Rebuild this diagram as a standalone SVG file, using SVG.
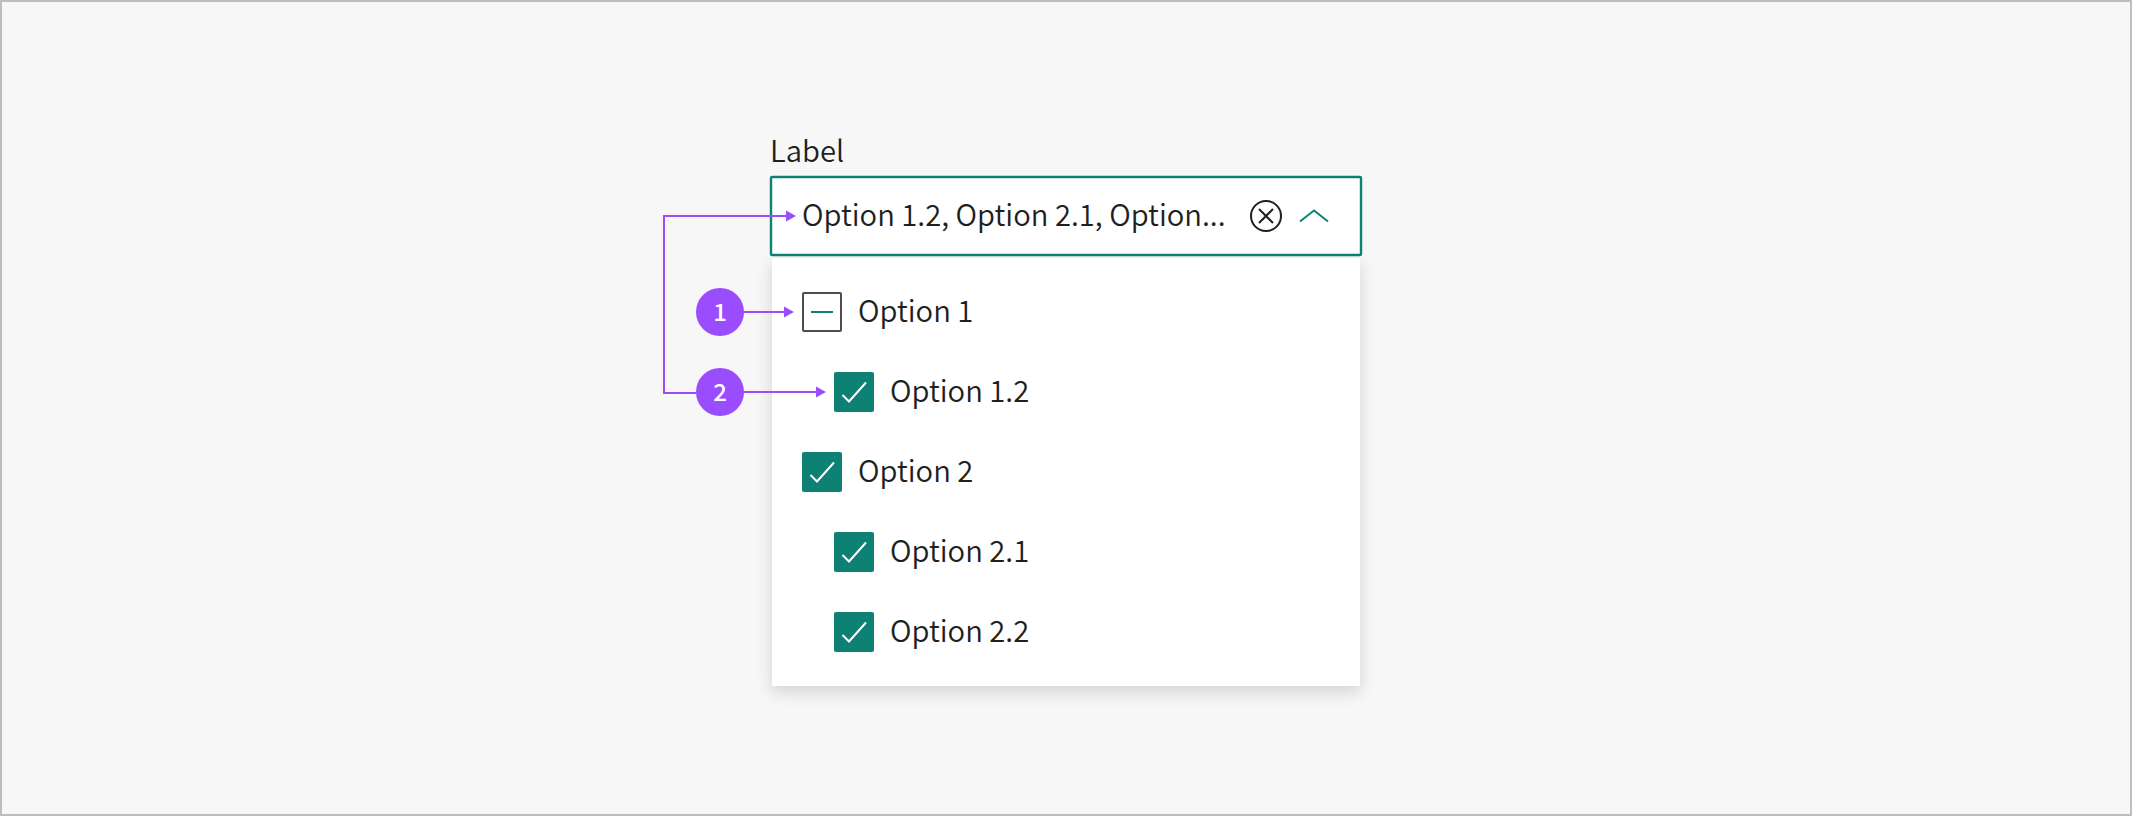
<svg xmlns="http://www.w3.org/2000/svg" width="2132" height="816" viewBox="0 0 2132 816">
<style>
text{font-family:"Noto Sans CJK SC","Noto Sans",sans-serif;fill:#1f1f1f;font-size:29.2px;font-weight:350}
.cb{fill:#0d8274}
.ck{fill:none;stroke:#fff;stroke-width:2}
.c{fill:none;stroke:#9a4dff;stroke-width:2}
.a{fill:#9a4dff}
text.n{fill:#fff;font-size:24px;font-weight:500;text-anchor:middle}
</style>
<defs>
<filter id="sh" x="-10%" y="-10%" width="120%" height="125%"><feDropShadow dx="0" dy="6" stdDeviation="8" flood-color="#000" flood-opacity=".15"/></filter>
<g id="check"><rect class="cb" width="40" height="40" rx="2"/><path class="ck" d="M8.500 23L15 29.500L32 10.500"/></g>
</defs>
<rect x="1" y="1" width="2130" height="814" fill="#f7f7f7" stroke="#bdbdbd" stroke-width="2"/>
<g id="menu"><rect x="772" y="258" width="588" height="428" fill="#fff" filter="url(#sh)"/></g>
<g id="field">
<text x="770" y="162">Label</text>
<rect x="771" y="177" width="590" height="78" rx="1" fill="#fff" stroke="#0d8274" stroke-width="2.400"/>
<text x="802" y="226">Option 1.2, Option 2.1, Option...</text>
<g fill="none"><circle cx="1266" cy="216" r="15" stroke="#1f1f1f" stroke-width="2"/><path d="M1259 209l14 14M1273 209l-14 14" stroke="#1f1f1f" stroke-width="2"/><path d="M1300 221.500l14-11 14 11" stroke="#0d8274" stroke-width="2"/></g>
</g>
<g id="option-1"><rect x="803" y="293" width="38" height="38" rx="1" fill="#fff" stroke="#504b4f" stroke-width="2"/><path d="M811 312h22" stroke="#0d8274" stroke-width="2"/><text x="858" y="322">Option 1</text></g>
<g id="option-1-2"><use href="#check" x="834" y="372"/><text x="890" y="402">Option 1.2</text></g>
<g id="option-2"><use href="#check" x="802" y="452"/><text x="858" y="482">Option 2</text></g>
<g id="option-2-1"><use href="#check" x="834" y="532"/><text x="890" y="562">Option 2.1</text></g>
<g id="option-2-2"><use href="#check" x="834" y="612"/><text x="890" y="642">Option 2.2</text></g>
<g id="connectors">
<path class="c" d="M696 393H664V216H788"/><path class="a" d="M786 210.500l10 5.500-10 5.500z"/>
<path class="c" d="M744 312H786"/><path class="a" d="M784 306.500l10 5.500-10 5.500z"/>
<path class="c" d="M744 392H818"/><path class="a" d="M816 386.500l10 5.500-10 5.500z"/>
</g>
<g id="badge-1"><circle class="a" cx="720" cy="312" r="24"/><text class="n" x="720" y="320.500">1</text></g>
<g id="badge-2"><circle class="a" cx="720" cy="392" r="24"/><text class="n" x="720" y="400.500">2</text></g>
</svg>
